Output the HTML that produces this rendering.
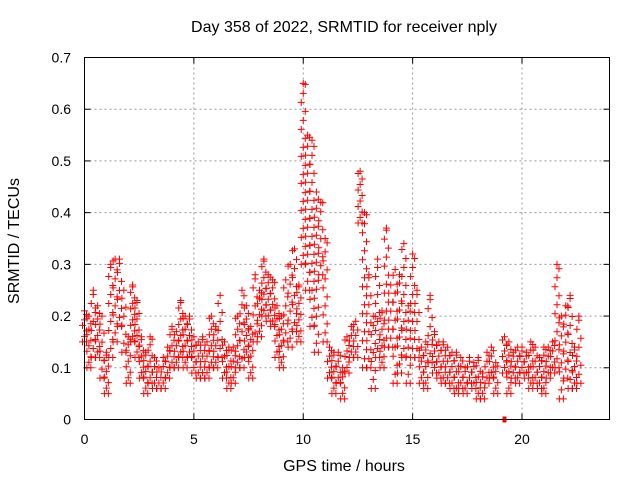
<!DOCTYPE html>
<html><head><meta charset="utf-8"><style>
body{margin:0;background:#fff}
svg{display:block;font-family:"Liberation Sans",sans-serif}
</style></head><body>
<svg id="chart" width="640" height="480">
<text x="344" y="32" font-size="16" text-anchor="middle">Day 358 of 2022, SRMTID for receiver nply</text>
<text x="344" y="471" font-size="16" text-anchor="middle">GPS time / hours</text>
<text transform="translate(19,241) rotate(-90)" font-size="16" text-anchor="middle">SRMTID / TECUs</text>
<g id="grid"></g><g id="marks"></g>
<rect x="84.5" y="57.5" width="525" height="362" fill="none" stroke="#000"/>
</svg>
<script>
const xTicks=[0,5,10,15,20];
const yTicks=[0,0.1,0.2,0.3,0.4,0.5,0.6,0.7];
const yTickLabels=["0","0.1","0.2","0.3","0.4","0.5","0.6","0.7"];
const times=[0,0.2,0.4,0.6,0.8,1.0,1.2,1.4,1.6,1.8,2.0,2.2,2.4,2.6,2.8,3.0,3.2,3.4,3.6,3.8,4.0,4.2,4.4,4.6,4.8,5.0,5.2,5.4,5.6,5.8,6.0,6.2,6.4,6.6,6.8,7.0,7.2,7.4,7.6,7.8,8.0,8.2,8.4,8.6,8.8,9.0,9.2,9.4,9.6,9.8,10.0,10.2,10.4,10.6,10.8,11.0,11.2,11.4,11.6,11.8,12.0,12.2,12.4,12.6,12.8,13.0,13.2,13.4,13.6,13.8,14.0,14.2,14.4,14.6,14.8,15.0,15.2,15.4,15.6,15.8,16.0,16.2,16.4,16.6,16.8,17.0,17.2,17.4,17.6,17.8,18.0,18.2,18.4,18.6,18.8,19.2,19.4,19.6,19.8,20.0,20.2,20.4,20.6,20.8,21.0,21.2,21.4,21.6,21.8,22.0,22.2,22.4,22.6];
const lowValues=[0.15,0.10,0.12,0.12,0.08,0.05,0.12,0.15,0.18,0.13,0.07,0.15,0.12,0.08,0.05,0.07,0.06,0.06,0.06,0.08,0.10,0.10,0.12,0.10,0.12,0.09,0.08,0.08,0.08,0.10,0.10,0.12,0.08,0.06,0.07,0.10,0.10,0.12,0.08,0.15,0.16,0.20,0.19,0.18,0.12,0.10,0.15,0.14,0.17,0.15,0.30,0.25,0.18,0.13,0.28,0.15,0.08,0.05,0.07,0.04,0.09,0.12,0.12,0.38,0.10,0.10,0.06,0.12,0.10,0.14,0.14,0.07,0.09,0.12,0.07,0.12,0.12,0.07,0.06,0.11,0.09,0.08,0.07,0.07,0.06,0.05,0.06,0.05,0.07,0.06,0.04,0.04,0.07,0.08,0.05,0.09,0.05,0.08,0.07,0.09,0.08,0.06,0.07,0.06,0.05,0.08,0.09,0.10,0.04,0.08,0.06,0.06,0.07];
const highValues=[0.21,0.20,0.25,0.22,0.20,0.13,0.30,0.31,0.31,0.25,0.16,0.26,0.23,0.16,0.13,0.16,0.12,0.10,0.12,0.14,0.18,0.17,0.23,0.20,0.20,0.16,0.15,0.16,0.15,0.20,0.18,0.24,0.15,0.14,0.14,0.20,0.25,0.22,0.18,0.28,0.25,0.31,0.28,0.27,0.22,0.20,0.27,0.30,0.33,0.26,0.65,0.55,0.54,0.44,0.42,0.35,0.14,0.13,0.13,0.10,0.16,0.18,0.19,0.48,0.40,0.28,0.20,0.31,0.21,0.37,0.26,0.29,0.28,0.34,0.22,0.32,0.25,0.14,0.15,0.24,0.17,0.15,0.15,0.14,0.13,0.13,0.12,0.10,0.12,0.11,0.12,0.09,0.13,0.14,0.11,0.16,0.15,0.13,0.14,0.14,0.13,0.15,0.14,0.12,0.14,0.14,0.15,0.30,0.20,0.22,0.24,0.14,0.20];
const isolatedTimes=[19.2];
const isolatedValues=[0.0];

const X0=84.5,X1=609.5,Y0=419.5,Y1=57.5;
const xs=t=>X0+(t/24)*(X1-X0);
const ys=v=>Y0-(v/0.7)*(Y0-Y1);
const NS="http://www.w3.org/2000/svg";
const grid=document.getElementById('grid'),marks=document.getElementById('marks');
function mk(tag,attrs,parent){const e=document.createElementNS(NS,tag);for(const k in attrs)e.setAttribute(k,attrs[k]);parent.appendChild(e);return e;}
xTicks.forEach(t=>{const x=xs(t);
 if(t>0){const g=mk('line',{x1:x,x2:x,y1:Y1,y2:Y0,stroke:'#999','stroke-dasharray':'2,3'},grid);
 
 }
 const tk=mk('line',{x1:x,x2:x,y1:Y0,y2:Y0-6,stroke:'#000'},grid);
 
 
 const tk2=mk('line',{x1:x,x2:x,y1:Y1,y2:Y1+6,stroke:'#000'},grid);
 
 
 const l=mk('text',{x:x,y:444,'font-size':14,'text-anchor':'middle'},grid);l.textContent=t;
 
 });
yTicks.forEach((v,i)=>{const y=ys(v);
 if(v>0&&v<0.7){const g=mk('line',{x1:X0,x2:X1,y1:y,y2:y,stroke:'#999','stroke-dasharray':'2,3'},grid);
 
 }
 const tk=mk('line',{x1:X0,x2:X0+6,y1:y,y2:y,stroke:'#000'},grid);
 
 
 const tk2=mk('line',{x1:X1-6,x2:X1,y1:y,y2:y,stroke:'#000'},grid);
 
 
 const l=mk('text',{x:71,y:y+5,'font-size':14,'text-anchor':'end'},grid);l.textContent=yTickLabels[i];
 
 });
function cross(x,y,col){const p=mk('path',{d:`M${x-3.5},${y}h7M${x},${y-3.5}v7`,stroke:col,'stroke-width':1,fill:'none'},marks);
 
 }
times.forEach((t,i)=>{
 const yl=ys(lowValues[i]),yh=ys(highValues[i]);
 const span=yl-yh;
 const step=span>60?9:5.5;
 let k=0;
 for(let y=yl;y>=yh-0.1;y-=step){const dx=(k%3)*2-2;cross(xs(t)+dx,y,'#f00');k++;}
 cross(xs(t),yh,'#f00');cross(xs(t)+2,yl,'#f00');
});
isolatedTimes.forEach((t,i)=>{const r=mk('rect',{x:xs(t)-2,y:ys(isolatedValues[i])-3,width:4,height:6,fill:'#f00'},marks);
 
 });
</script>
</body></html>
